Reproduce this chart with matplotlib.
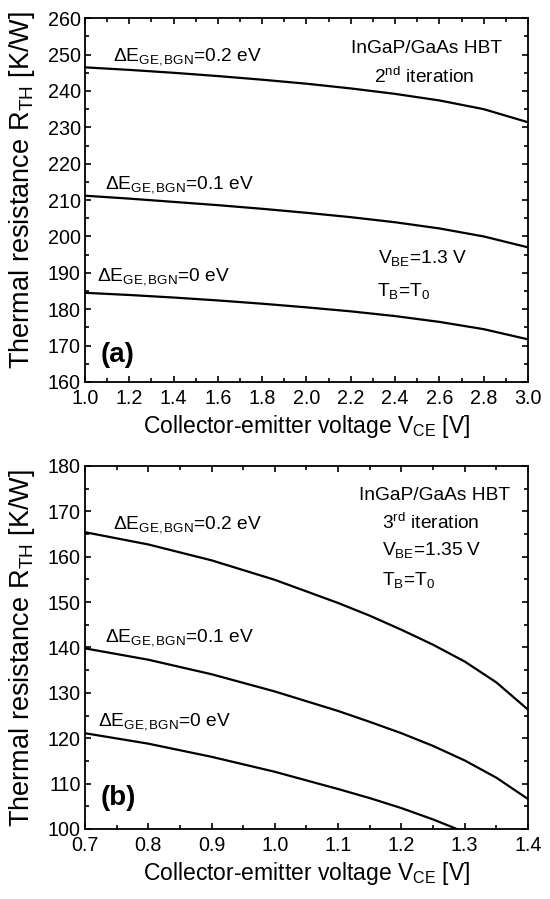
import numpy as np
import matplotlib.pyplot as plt
from matplotlib.ticker import MultipleLocator

plt.rcParams["font.family"] = ["Liberation Sans", "DejaVu Sans"]
plt.rcParams["mathtext.fontset"] = "custom"
plt.rcParams["mathtext.rm"] = "Liberation Sans"
plt.rcParams["mathtext.it"] = "Liberation Sans"
plt.rcParams["mathtext.bf"] = "Liberation Sans:bold"
plt.rcParams["mathtext.default"] = "regular"

# --- panel (a): 2nd iteration, V_BE = 1.3 V ---
vce_a = [1.0, 1.2, 1.4, 1.6, 1.8, 2.0, 2.2, 2.4, 2.6, 2.8, 3.0]
rth_a_02 = [246.5, 245.8, 245.0, 244.1, 243.1, 242.0, 240.7, 239.2, 237.4, 235.0, 231.4]
rth_a_01 = [211.2, 210.4, 209.5, 208.6, 207.6, 206.5, 205.3, 203.9, 202.2, 200.0, 197.0]
rth_a_00 = [184.5, 183.9, 183.2, 182.4, 181.5, 180.5, 179.4, 178.1, 176.5, 174.5, 171.7]

# --- panel (b): 3rd iteration, V_BE = 1.35 V ---
vce_b = [0.7, 0.8, 0.9, 1.0, 1.1, 1.15, 1.2, 1.25, 1.3, 1.35, 1.4]
rth_b_02 = [165.4, 162.7, 159.2, 154.9, 149.8, 147.0, 143.9, 140.6, 136.9, 132.3, 126.3]
rth_b_01 = [139.8, 137.3, 134.1, 130.3, 126.0, 123.6, 121.1, 118.3, 115.1, 111.3, 106.6]
rth_b_00 = [121.1, 118.8, 115.9, 112.6, 108.8, 106.8, 104.6, 102.1, 99.3, 96.2, 92.5]

labels = [r"$\Delta$E$_{GE,BGN}$=0.2 eV",
          r"$\Delta$E$_{GE,BGN}$=0.1 eV",
          r"$\Delta$E$_{GE,BGN}$=0 eV"]

fig = plt.figure(figsize=(5.5, 8.99), dpi=100)
ax1 = fig.add_axes([0.1545, 0.5752, 0.8055, 0.4045])
ax2 = fig.add_axes([0.1545, 0.0779, 0.8055, 0.4038])

FS_ANN = 13.8


def style(ax, ylab_y):
    ax.tick_params(which="both", direction="in", top=True, right=True,
                   labelsize=14.2, width=1.2)
    ax.tick_params(which="major", length=4.5)
    ax.tick_params(which="minor", length=2.6)
    ax.tick_params(axis="x", pad=5)
    ax.tick_params(axis="y", pad=3)
    for s in ax.spines.values():
        s.set_linewidth(1.3)
    ax.set_xlabel(r"Collector-emitter voltage V$_{CE}$ [V]", fontsize=16.5)
    ax.xaxis.set_label_coords(0.5, -0.085, transform=ax.transAxes)
    ax.xaxis.label.set_va("top")
    ax.set_ylabel(r"Thermal resistance R$_{TH}$ [K/W]", fontsize=19.5)
    ax.yaxis.set_label_coords(-0.108, ylab_y)


# panel (a)
for y in [rth_a_02, rth_a_01, rth_a_00]:
    ax1.plot(vce_a, y, color="black", lw=1.6)
ax1.set_xlim(1.0, 3.0)
ax1.set_ylim(160, 260)
ax1.xaxis.set_major_locator(MultipleLocator(0.2))
ax1.xaxis.set_minor_locator(MultipleLocator(0.1))
ax1.yaxis.set_major_locator(MultipleLocator(10))
ax1.yaxis.set_minor_locator(MultipleLocator(5))
ax1.xaxis.set_major_formatter(lambda v, p: f"{v:.1f}")
style(ax1, 0.527)
ax1.text(1.126, 248.5, labels[0], fontsize=FS_ANN, va="baseline")
ax1.text(1.090, 213.3, labels[1], fontsize=FS_ANN, va="baseline")
ax1.text(1.056, 187.8, labels[2], fontsize=FS_ANN, va="baseline")
ax1.text(0.77, 0.904, "InGaP/GaAs HBT", transform=ax1.transAxes,
         ha="center", va="baseline", fontsize=FS_ANN)
ax1.text(0.765, 0.823, r"2$^{nd}$ iteration", transform=ax1.transAxes,
         ha="center", va="baseline", fontsize=FS_ANN)
ax1.text(0.661, 0.326, r"V$_{BE}$=1.3 V", transform=ax1.transAxes,
         ha="left", va="baseline", fontsize=FS_ANN)
ax1.text(0.660, 0.235, r"T$_B$=T$_0$", transform=ax1.transAxes,
         ha="left", va="baseline", fontsize=FS_ANN)
ax1.text(0.036, 0.074, "(a)", transform=ax1.transAxes, fontsize=20,
         fontweight="bold", va="center")

# panel (b)
for y in [rth_b_02, rth_b_01, rth_b_00]:
    ax2.plot(vce_b, y, color="black", lw=1.6)
ax2.set_xlim(0.7, 1.4)
ax2.set_ylim(100, 180)
ax2.xaxis.set_major_locator(MultipleLocator(0.1))
ax2.xaxis.set_minor_locator(MultipleLocator(0.05))
ax2.yaxis.set_major_locator(MultipleLocator(10))
ax2.yaxis.set_minor_locator(MultipleLocator(5))
ax2.xaxis.set_major_formatter(lambda v, p: f"{v:.1f}")
style(ax2, 0.499)
ax2.text(0.745, 166.3, labels[0], fontsize=FS_ANN, va="baseline")
ax2.text(0.732, 141.3, labels[1], fontsize=FS_ANN, va="baseline")
ax2.text(0.721, 122.9, labels[2], fontsize=FS_ANN, va="baseline")
ax2.text(0.618, 0.906, "InGaP/GaAs HBT", transform=ax2.transAxes,
         ha="left", va="baseline", fontsize=FS_ANN)
ax2.text(0.670, 0.826, r"3$^{rd}$ iteration", transform=ax2.transAxes,
         ha="left", va="baseline", fontsize=FS_ANN)
ax2.text(0.670, 0.755, r"V$_{BE}$=1.35 V", transform=ax2.transAxes,
         ha="left", va="baseline", fontsize=FS_ANN)
ax2.text(0.670, 0.672, r"T$_B$=T$_0$", transform=ax2.transAxes,
         ha="left", va="baseline", fontsize=FS_ANN)
ax2.text(0.036, 0.085, "(b)", transform=ax2.transAxes, fontsize=20,
         fontweight="bold", va="center")

fig.savefig("out.png", dpi=100)
